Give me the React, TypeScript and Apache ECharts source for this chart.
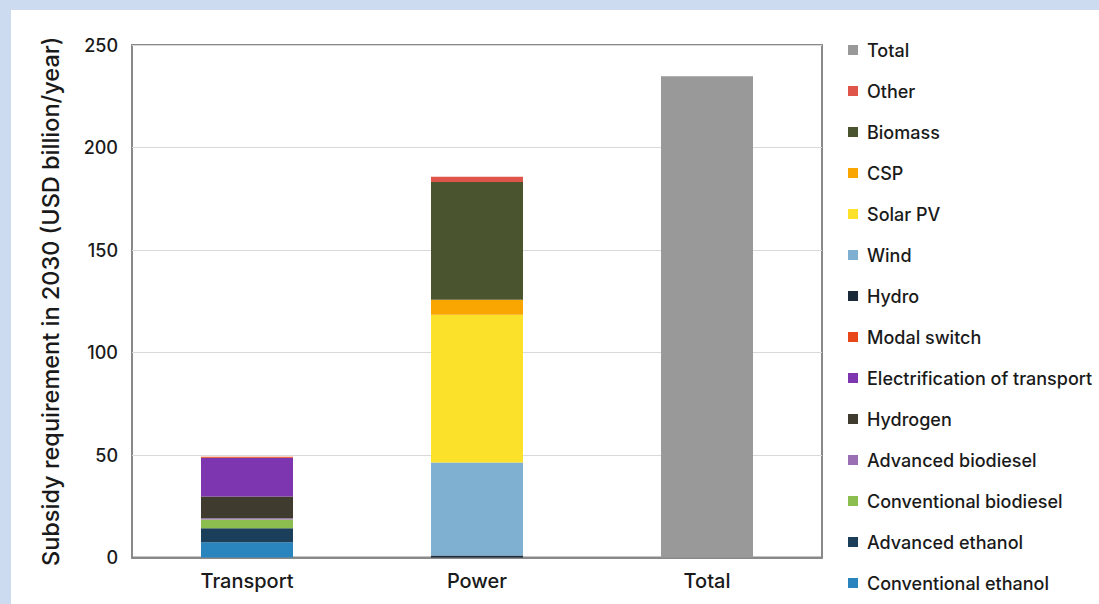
import React, { useEffect, useRef } from "react";
import * as echarts from "echarts";

const categories = ["Transport", "Power", "Total"];
const yTicks = [0, 50, 100, 150, 200, 250];

const conventionalEthanol = [7.5, null, null];
const advancedEthanol = [6.8, null, null];
const conventionalBiodiesel = [4.2, null, null];
const advancedBiodiesel = [0.6, null, null];
const hydrogen = [10.6, null, null];
const electrification = [18.9, null, null];
const modalSwitch = [0.5, null, null];
const hydro = [null, 1.0, null];
const wind = [null, 45.4, null];
const solarPV = [null, 72.0, null];
const csp = [null, 7.3, null];
const biomass = [null, 57.5, null];
const other = [null, 2.5, null];
const total = [null, null, 234.8];

const seriesDefs: { name: string; data: (number | null)[]; color: string }[] = [
  { name: "Conventional ethanol", data: conventionalEthanol, color: "#2a84bd" },
  { name: "Advanced ethanol", data: advancedEthanol, color: "#1b3f5a" },
  { name: "Conventional biodiesel", data: conventionalBiodiesel, color: "#8cbd4f" },
  { name: "Advanced biodiesel", data: advancedBiodiesel, color: "#9a6fb4" },
  { name: "Hydrogen", data: hydrogen, color: "#3f3b2e" },
  { name: "Electrification of transport", data: electrification, color: "#7d35b0" },
  { name: "Modal switch", data: modalSwitch, color: "#e8471a" },
  { name: "Hydro", data: hydro, color: "#1a2a3a" },
  { name: "Wind", data: wind, color: "#7fb0d2" },
  { name: "Solar PV", data: solarPV, color: "#fce12a" },
  { name: "CSP", data: csp, color: "#f9a602" },
  { name: "Biomass", data: biomass, color: "#4a5530" },
  { name: "Other", data: other, color: "#e0554a" },
  { name: "Total", data: total, color: "#999999" },
];

const FONT = "Inter";

export default function App() {
  const ref = useRef<HTMLDivElement>(null);
  useEffect(() => {
    if (!ref.current) return;
    const chart = echarts.init(ref.current, null, { renderer: "svg" });
    chart.setOption({
      animation: false,
      backgroundColor: "transparent",
      grid: {
        left: 132,
        top: 45,
        width: 690,
        height: 512.5,
        show: true,
        borderColor: "#898989",
        borderWidth: 2,
        backgroundColor: "transparent",
      },
      legend: {
        orient: "vertical",
        left: 848,
        top: 40,
        padding: 0,
        itemWidth: 10,
        itemHeight: 10,
        itemGap: 21,
        icon: "rect",
        data: seriesDefs.map((s) => s.name).reverse(),
        textStyle: {
          fontFamily: FONT,
          fontSize: 18,
          fontWeight: 500,
          color: "#1a1a1a",
          lineHeight: 20,
          padding: [0, 0, 0, 4],
        },
      },
      xAxis: {
        type: "category",
        data: categories,
        axisLine: { show: true, lineStyle: { color: "#898989", width: 2 } },
        axisTick: { show: false },
        axisLabel: {
          fontFamily: FONT,
          fontSize: 20,
          fontWeight: 500,
          color: "#1a1a1a",
          margin: 13,
        },
      },
      yAxis: {
        type: "value",
        min: yTicks[0],
        max: yTicks[yTicks.length - 1],
        interval: 50,
        name: "Subsidy requirement in 2030 (USD billion/year)",
        nameLocation: "middle",
        nameGap: 70,
        nameTextStyle: {
          fontFamily: FONT,
          fontSize: 23.5,
          fontWeight: 500,
          color: "#1a1a1a",
        },
        axisLine: { show: false },
        axisTick: { show: false },
        splitLine: { lineStyle: { color: "#d9d9d9", width: 1 } },
        axisLabel: {
          fontFamily: FONT,
          fontSize: 18,
          fontWeight: 500,
          color: "#1a1a1a",
          margin: 14,
        },
      },
      series: seriesDefs.map((s) => ({
        name: s.name,
        type: "bar",
        stack: "all",
        barWidth: "40%",
        data: s.data,
        itemStyle: { color: s.color },
      })),
    });
    return () => chart.dispose();
  }, []);

  return (
    <div
      style={{
        position: "fixed",
        left: 0,
        top: 0,
        width: 1099,
        height: 604,
        background: "#cddbf0",
      }}
    >
      <div
        style={{
          position: "absolute",
          left: 11,
          top: 10,
          right: 0,
          bottom: 0,
          background: "#ffffff",
        }}
      />
      <div
        ref={ref}
        style={{ position: "absolute", left: 0, top: 0, width: 1099, height: 604 }}
      />
    </div>
  );
}
